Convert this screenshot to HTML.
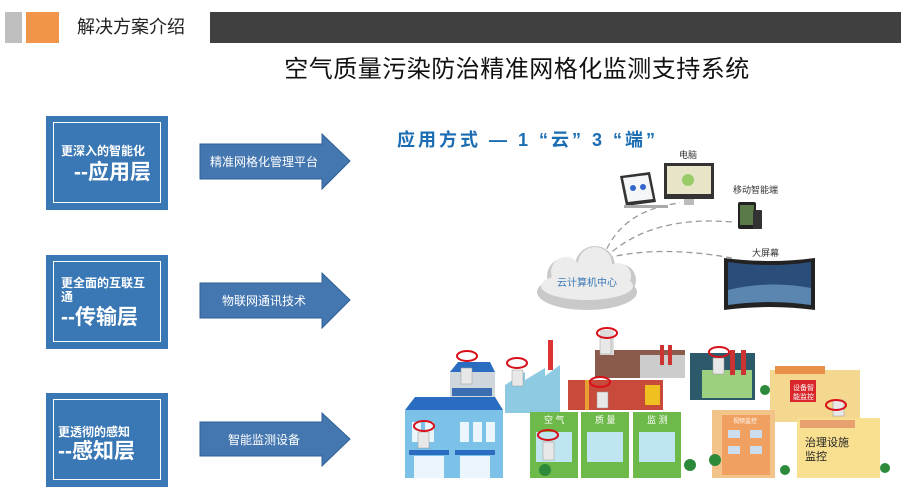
<!DOCTYPE html>
<html><head><meta charset="utf-8"><style>
body{margin:0;width:901px;height:495px;background:#fff;position:relative;overflow:hidden;font-family:"Liberation Sans","Noto Sans CJK SC",sans-serif}
.a{position:absolute}
.box{position:absolute;left:46px;width:122px;height:94px;background:#3a78b5}
.in{position:absolute;left:7px;top:6px;right:7px;bottom:7px;border:1px solid #fff;color:#fff}
.s{font-size:12px;font-weight:bold;position:absolute;left:7px;line-height:14px}
.b{font-size:21px;font-weight:bold;position:absolute;line-height:24px}
</style></head><body>
<div class="a" style="left:5px;top:12px;width:17px;height:31px;background:#bfbfbf"></div>
<div class="a" style="left:26px;top:12px;width:33px;height:31px;background:#f0954a"></div>
<div class="a" style="left:77px;top:14px;font-size:18px;line-height:26px;color:#222">解决方案介绍</div>
<div class="a" style="left:210px;top:12px;width:691px;height:31px;background:#404040"></div>
<div class="a" style="left:270px;top:55px;width:494px;text-align:center;font-size:24px;line-height:30px;color:#111;letter-spacing:0.5px">空气质量污染防治精准网格化监测支持系统</div>

<div class="box" style="top:116px"><div class="in"><div class="s" style="top:21px">更深入的智能化</div><div class="b" style="top:38px;left:20px">--应用层</div></div></div>
<div class="box" style="top:255px"><div class="in"><div class="s" style="top:14px">更全面的互联互<br>通</div><div class="b" style="top:44px;left:7px">--传输层</div></div></div>
<div class="box" style="top:393px"><div class="in"><div class="s" style="top:25px;left:4px">更透彻的感知</div><div class="b" style="top:40px;left:4px">--感知层</div></div></div>

<svg class="a" style="left:0;top:0" width="901" height="495">
<g fill="#4477b0" stroke="#2f5f95" stroke-width="1">
<polygon points="200,144 322,144 322,134 350,161 322,189 322,179 200,179"/>
<polygon points="200,283 322,283 322,273 350,300 322,328 322,318 200,318"/>
<polygon points="200,422 322,422 322,413 350,439 322,466 322,456 200,456"/>
</g>
<g fill="#fff" font-size="12" text-anchor="middle" font-family="Liberation Sans,Noto Sans CJK SC,sans-serif">
<text x="264" y="166">精准网格化管理平台</text>
<text x="264" y="305">物联网通讯技术</text>
<text x="264" y="444">智能监测设备</text>
</g>
<text x="397" y="146" fill="#1a6db3" font-size="18" font-weight="bold" font-family="Liberation Sans,Noto Sans CJK SC,sans-serif" textLength="258">应用方式 — 1 “云” 3 “端”</text>
<g fill="none" stroke="#999" stroke-width="1.3" stroke-dasharray="6,4">
<path d="M603,258 Q620,210 680,203"/>
<path d="M605,258 Q650,215 732,222"/>
<path d="M607,258 Q660,245 732,258"/>
</g>
<g fill="#c9c9c9"><ellipse cx="587" cy="292" rx="50" ry="18"/><circle cx="565" cy="276" r="18"/><circle cx="595" cy="266" r="20"/><circle cx="620" cy="280" r="16"/></g>
<g fill="#ececec"><ellipse cx="587" cy="286" rx="46" ry="14"/><circle cx="566" cy="272" r="15"/><circle cx="595" cy="264" r="17"/><circle cx="618" cy="276" r="13"/></g>
<text x="587" y="286" text-anchor="middle" fill="#3a78b5" font-size="10" font-family="Liberation Sans,Noto Sans CJK SC,sans-serif">云计算机中心</text>
<g font-size="9" fill="#333" font-family="Liberation Sans,Noto Sans CJK SC,sans-serif"><text x="679" y="158">电脑</text><text x="733" y="193">移动智能端</text><text x="752" y="256">大屏幕</text></g>
<rect x="664" y="163" width="50" height="36" fill="#333"/><rect x="667" y="166" width="44" height="28" fill="#e8e4c8"/><circle cx="688" cy="180" r="6" fill="#9c6"/><rect x="684" y="199" width="10" height="6" fill="#bbb"/>
<polygon points="620,176 650,172 656,202 626,206" fill="#333"/><polygon points="623,178 648,175 653,199 628,202" fill="#f4f6f8"/><circle cx="633" cy="188" r="3" fill="#36c"/><circle cx="643" cy="187" r="3" fill="#36c"/><rect x="624" y="205" width="44" height="3" fill="#aaa"/>
<rect x="738" y="202" width="18" height="27" rx="2" fill="#222"/><rect x="740" y="205" width="14" height="20" fill="#5a7a4a"/><rect x="753" y="210" width="9" height="19" rx="1" fill="#333"/>
<path d="M724,258 Q770,264 815,258 L815,310 Q770,304 724,310Z" fill="#222"/><path d="M728,262 Q770,268 811,262 L811,305 Q770,299 728,305Z" fill="#2b4d7a"/><path d="M728,290 Q770,280 811,288 L811,305 Q770,299 728,305Z" fill="#5b86b0"/>
<rect x="450" y="372" width="45" height="40" fill="#cfd6dc"/><polygon points="450,372 458,362 490,362 495,372" fill="#2a6cc0"/><rect x="452" y="388" width="40" height="8" fill="#3a6eb0"/>
<rect x="405" y="410" width="98" height="68" fill="#7cc1e8"/><polygon points="405,410 415,397 495,397 503,410" fill="#2a6cc0"/>
<g fill="#eaf6fb"><rect x="412" y="422" width="9" height="20"/><rect x="425" y="422" width="9" height="20"/><rect x="460" y="422" width="9" height="20"/><rect x="473" y="422" width="9" height="20"/><rect x="486" y="422" width="9" height="20"/><rect x="414" y="456" width="30" height="22"/><rect x="460" y="456" width="30" height="22"/></g>
<rect x="409" y="450" width="40" height="5" fill="#2a6cc0"/><rect x="455" y="450" width="40" height="5" fill="#2a6cc0"/>
<polygon points="505,385 525,372 525,380 545,368 545,376 560,365 560,413 505,413" fill="#8ecbe2"/><rect x="548" y="340" width="5" height="30" fill="#d33"/>
<rect x="595" y="350" width="90" height="28" fill="#8a5a4a"/><rect x="640" y="355" width="45" height="23" fill="#ccc"/><rect x="600" y="330" width="14" height="25" fill="#ddd"/><rect x="660" y="345" width="4" height="20" fill="#c33"/><rect x="668" y="345" width="4" height="20" fill="#c33"/>
<rect x="568" y="380" width="95" height="30" fill="#c84a3a"/><rect x="585" y="380" width="4" height="30" fill="#e8a030"/><rect x="645" y="385" width="15" height="20" fill="#f0c020"/>
<rect x="690" y="353" width="65" height="47" fill="#2c5a6a"/><rect x="702" y="370" width="50" height="28" fill="#9cd080"/><rect x="730" y="350" width="5" height="25" fill="#c33"/><rect x="741" y="350" width="5" height="25" fill="#c33"/>
<g fill="#6dba4a"><rect x="530" y="412" width="48" height="66"/><rect x="581" y="412" width="48" height="66"/><rect x="633" y="412" width="48" height="66"/></g>
<g fill="#bfe6f0"><rect x="536" y="432" width="36" height="30"/><rect x="587" y="432" width="36" height="30"/><rect x="639" y="432" width="36" height="30"/></g>
<g fill="#fff" font-size="9" font-family="Liberation Sans,Noto Sans CJK SC,sans-serif"><text x="544" y="423">空 气</text><text x="595" y="423">质 量</text><text x="647" y="423">监 测</text></g>
<rect x="770" y="370" width="90" height="52" fill="#f5d890"/><rect x="775" y="366" width="50" height="8" fill="#e8904a"/><rect x="790" y="380" width="26" height="22" fill="#d8262a"/>
<text x="793" y="390" fill="#fff" font-size="7" font-family="Liberation Sans,Noto Sans CJK SC,sans-serif">设备智</text><text x="793" y="399" fill="#fff" font-size="7" font-family="Liberation Sans,Noto Sans CJK SC,sans-serif">能监控</text>
<rect x="712" y="410" width="63" height="68" fill="#f2c48a"/><rect x="722" y="415" width="48" height="60" fill="#f0a060"/><g fill="#cde"><rect x="728" y="430" width="12" height="8"/><rect x="750" y="430" width="12" height="8"/><rect x="728" y="446" width="12" height="8"/><rect x="750" y="446" width="12" height="8"/></g>
<text x="733" y="423" fill="#fff" font-size="6" font-family="Liberation Sans,Noto Sans CJK SC,sans-serif">视频监控</text>
<rect x="797" y="418" width="83" height="60" fill="#f8e090"/><rect x="800" y="420" width="55" height="8" fill="#e8a070"/>
<g fill="#222" font-size="11" font-family="Liberation Sans,Noto Sans CJK SC,sans-serif"><text x="805" y="446">治理设施</text><text x="805" y="460">监控</text></g>
<g fill="#2d8a3a"><circle cx="545" cy="470" r="6"/><circle cx="690" cy="465" r="6"/><circle cx="715" cy="460" r="6"/><circle cx="785" cy="470" r="5"/><circle cx="885" cy="468" r="5"/><circle cx="765" cy="390" r="5"/></g>
<g fill="#e8e8e8" stroke="#999" stroke-width="0.5"><rect x="461" y="368" width="11" height="16"/><rect x="512" y="370" width="11" height="16"/><rect x="418" y="432" width="11" height="16"/><rect x="543" y="442" width="11" height="18"/><rect x="600" y="338" width="11" height="16"/><rect x="597" y="392" width="11" height="16"/><rect x="713" y="358" width="11" height="16"/><rect x="833" y="400" width="11" height="16"/></g>
<g fill="none" stroke="#d8101a" stroke-width="2"><ellipse cx="467" cy="356" rx="10" ry="5"/><ellipse cx="517" cy="363" rx="10" ry="5"/><ellipse cx="424" cy="426" rx="10" ry="5"/><ellipse cx="548" cy="435" rx="10" ry="5"/><ellipse cx="607" cy="333" rx="10" ry="5"/><ellipse cx="600" cy="382" rx="10" ry="5"/><ellipse cx="719" cy="352" rx="10" ry="5"/><ellipse cx="836" cy="405" rx="10" ry="5"/></g>
</svg>
</body></html>
